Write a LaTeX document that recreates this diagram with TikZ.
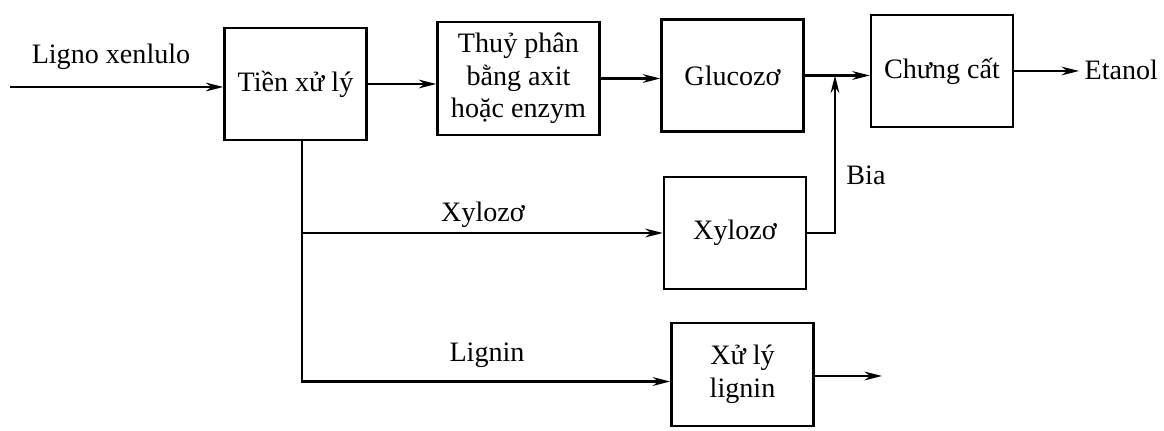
\documentclass[tikz,border=0pt]{standalone}
\usepackage{fontspec}
\setmainfont{Liberation Serif}
\usetikzlibrary{arrows.meta}

\begin{document}
\begin{tikzpicture}[x=0.02cm, y=-0.02cm,
  pbox/.style={draw, line width=1.4pt, align=center, minimum width=2.84cm, minimum height=2.24cm, inner sep=2pt, font=\fontsize{16}{18.5}\selectfont},
  lbl/.style={font=\fontsize{16}{18.5}\selectfont, inner sep=1pt},
  flow/.style={line width=1.2pt, -{Stealth[length=10pt, width=5pt]}}]
\useasboundingbox (0,0) rectangle (1164,431);

% process boxes
\node[pbox] at (295.5,84) (pre) {Tiền xử lý};
\node[pbox, minimum width=3.24cm, minimum height=2.26cm] at (518.5,78.5) (hydro) {Thuỷ phân\\bằng axit\\hoặc enzym};
\node[pbox] at (732.5,75.5) (gluc) {Glucozơ};
\node[pbox] at (942,71) (distil) {Chưng cất};
\node[pbox] at (735,233) (xyl) {Xylozơ};
\node[pbox, minimum height=2.06cm] at (742.5,374.5) (lign) {Xử lý\\lignin};

% free texts
\node[lbl] at (111,57) (feedtxt) {Ligno xenlulo};
\node[lbl, inner sep=3pt, anchor=west] at (1079,70) (etanol) {Etanol};
\node[lbl] at (483,215) (xyltxt) {Xylozơ};
\node[lbl] at (487,355) (ligtxt) {Lignin};
\node[lbl] at (866,175) (bia) {Bia};

\coordinate (feed) at (10,87);
\coordinate (split) at (302,140);
\coordinate (join) at (835,75.5);
\coordinate (lout) at (882,376);

% connectors
\draw[flow] (feed) -- (feed -| pre.west);
\draw[flow] (pre.east) -- (pre.east -| hydro.west);
\draw[flow] (hydro.east) -- (hydro.east -| gluc.west);
\draw[flow] (gluc.east) -- (gluc.east -| distil.west);
\draw[flow] (distil.east) -- (distil.east -| etanol.west);
\draw[flow] (xyl.east) -| (join);
\draw[flow] (split |- xyl.west) -- (xyl.west);
\draw[flow] (split) |- ([yshift=-4pt]lign.west);
\draw[flow] (lout -| lign.east) -- (lout);
\end{tikzpicture}
\end{document}
